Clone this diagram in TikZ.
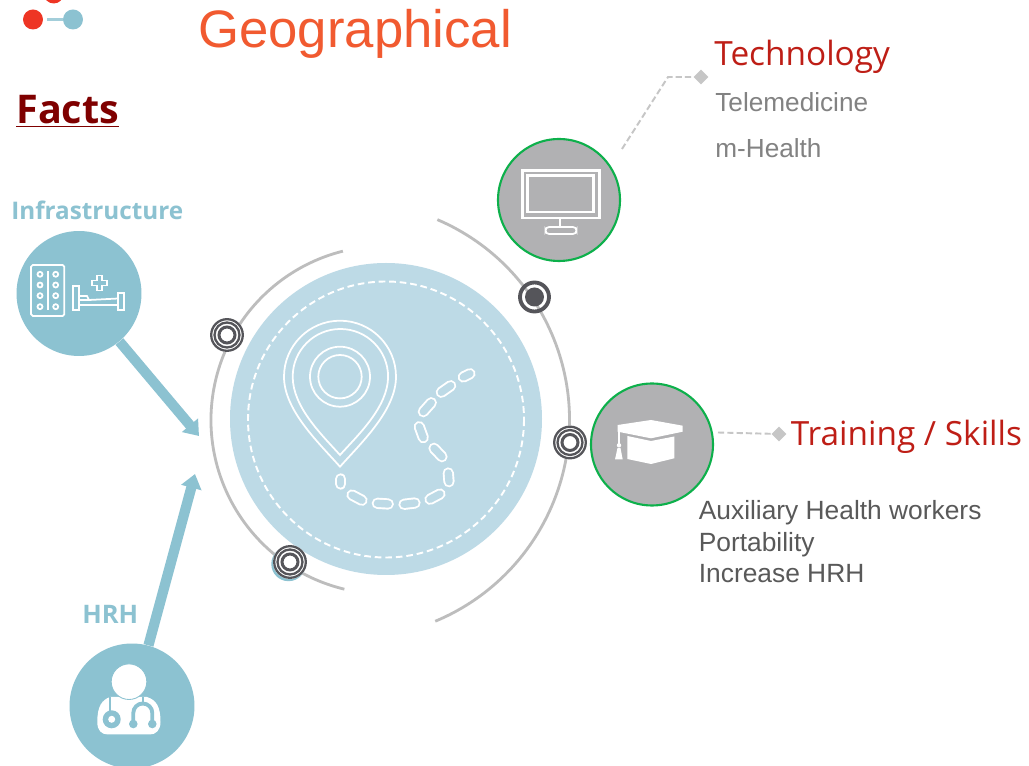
\documentclass[tikz,border=0pt]{standalone}
\usepackage{fontspec}
\setmainfont{Liberation Sans}
\newfontfamily\headfont{Open Sans}
\usepackage{xcolor}
\definecolor{titleorange}{HTML}{F15A30}
\definecolor{factsred}{HTML}{7F0000}
\definecolor{headred}{HTML}{BE1E16}
\definecolor{tealblue}{HTML}{8CC2D1}
\definecolor{paleblue}{HTML}{BDDAE6}
\definecolor{bubblegray}{HTML}{B1B1B3}
\definecolor{bubblegreen}{HTML}{0DB04B}
\definecolor{arcgray}{HTML}{BDBDBD}
\definecolor{ringdark}{HTML}{55555A}
\definecolor{leadgray}{HTML}{C6C6C6}
\definecolor{textgray}{HTML}{828282}
\definecolor{textdark}{HTML}{595959}
\definecolor{logored}{HTML}{EE3524}
\usetikzlibrary{arrows.meta,shapes.geometric}
\tikzset{
  tealbub/.style={circle,fill=tealblue,minimum size=2.5cm,inner sep=0pt},
  graybub/.style={circle,fill=bubblegray,draw=bubblegreen,line width=1.2pt,minimum size=2.44cm,inner sep=0pt},
  logodot/.style={circle,minimum size=0.4cm,inner sep=0pt},
  leaddot/.style={diamond,fill=leadgray,minimum size=0.3cm,inner sep=0pt},
  leadline/.style={leadgray,line width=1.1pt,dash pattern=on 3.5pt off 1.8pt},
  bigarrow/.style={tealblue,line width=5.8pt,-{Triangle[length=8pt,width=11.5pt]}},
  arcline/.style={arcgray,line width=1.6pt},
  iconline/.style={white,line width=1pt},
  ringmark/.pic={
    \fill[white] (0,0) circle[radius=17];
    \draw[ringdark,line width=1.3pt] (0,0) circle[radius=15.8];
    \draw[ringdark,line width=1.3pt] (0,0) circle[radius=12.5];
    \draw[ringdark,line width=1.7pt] (0,0) circle[radius=8];
  }
}
\newcommand{\footdash}[2]{
  \draw[white,line width=6.4pt,line cap=round] #1 -- #2;
  \draw[paleblue,line width=4.2pt,line cap=round] #1 -- #2;
}
\begin{document}
\begin{tikzpicture}[x=0.02cm,y=-0.02cm]
  \clip (0,0) rectangle (1029,766);
  \fill[white] (0,0) rectangle (1029,766);

  \node[logodot,fill=logored] (logotop) at (53.7,-6.5) {};
  \node[logodot,fill=logored] (logored) at (33,19.5) {};
  \node[logodot,fill=tealblue] (logoblue) at (73,19.5) {};
  \draw[tealblue!80,line width=1.2pt,shorten <=2.3pt] (logored) -- (logoblue);

  \node[font=\fontsize{30}{36}\selectfont,text=titleorange,anchor=base west,inner sep=0pt] (title) at (198,48) {Geographical};
  \node[font=\headfont\fontsize{22.5}{27}\selectfont\bfseries,text=factsred,anchor=base west,inner sep=0pt] (facts) at (16,123.5) {\underline{Facts}};
  \node[font=\headfont\fontsize{13.8}{18}\selectfont\bfseries,text=tealblue,anchor=base west,inner sep=0pt] (infralabel) at (11,219.5) {Infrastructure};
  \node[font=\headfont\fontsize{14.5}{18}\selectfont\bfseries,text=tealblue,anchor=base west,inner sep=0pt] (hrhlabel) at (82,623.5) {HRH};

  \draw[arcline] ([shift={(103.5:174)}]385,420) arc[start angle=103.5,end angle=256,radius=174];
  \draw[arcline] ([shift={(-66.8:218)}]351.5,420) arc[start angle=-66.8,end angle=67.4,radius=218];

  \fill[paleblue] (386,419) circle[radius=156];
  \draw[white,line width=1.1pt,dash pattern=on 3.8pt off 2.2pt] (386,419.5) circle[radius=138];

  \draw[iconline] (340,466.7) .. controls (318,442) and (284,410) .. (284,376.7) arc[start angle=180,end angle=360,radius=56] .. controls (396,410) and (362,442) .. cycle;
  \draw[iconline] (340,455) .. controls (322,435) and (292.7,407) .. (292.7,376.7) arc[start angle=180,end angle=360,radius=47.7] .. controls (388,407) and (358,435) .. cycle;
  \draw[iconline] (340,376.7) circle[radius=30];
  \draw[iconline] (340,376.7) circle[radius=21.7];

  \footdash{(463.3,377)}{(470,373.7)}
  \footdash{(441.3,392.3)}{(450.7,385.7)}
  \footdash{(423.3,411.7)}{(431.3,402.7)}
  \footdash{(419.3,426.7)}{(423.3,437.7)}
  \footdash{(434,448.3)}{(442,456.7)}
  \footdash{(448.3,473)}{(449,481.7)}
  \footdash{(430,499.3)}{(440,494)}
  \footdash{(404,504.3)}{(415,503)}
  \footdash{(377.3,503.3)}{(388.3,504)}
  \footdash{(352,495)}{(362,500.3)}
  \footdash{(340.7,479)}{(340.7,484)}

  \fill[tealblue] (288.5,564) circle[radius=17.2];
  \foreach \ringpos in {(227,335),(570,442.5),(290,562)}
    \pic at \ringpos {ringmark};
  \draw[ringdark,line width=2.2pt] (534.5,297) circle[radius=14.5];
  \fill[ringdark] (534.5,297) circle[radius=9.5];

  \node[tealbub] (infra) at (79,293.5) {};
  \coordinate (infratip) at (199,436);
  \draw[bigarrow] (infra) -- (infratip);
  \draw[iconline,rounded corners=1pt] (31,265) rectangle (64.3,316);
  \draw[iconline] (48,271) -- (48,310);
  \foreach \py in {274.3,285,295.7,306.7}{
    \draw[iconline] (40,\py) circle[radius=2.5];
    \draw[iconline] (55.7,\py) circle[radius=2.5];
  }
  \draw[iconline] (72.7,285.7) rectangle (78.7,310);
  \draw[iconline] (118.3,293.3) rectangle (124.3,310);
  \draw[iconline] (78.7,296) -- (87,296) -- (89,300) -- (118.3,298.5);
  \draw[iconline] (78.7,305) -- (118.3,305);
  \draw[iconline] (78.7,300) -- (89,300);
  \draw[iconline] (97,275.5) -- (102,275.5) -- (102,280.5) -- (107,280.5) -- (107,285.5) -- (102,285.5) -- (102,290.5) -- (97,290.5) -- (97,285.5) -- (92,285.5) -- (92,280.5) -- (97,280.5) -- cycle;

  \coordinate (hrhtip) at (195,474);
  \node[tealbub] (hrh) at (132,706) {};
  \draw[bigarrow] (hrh) -- (hrhtip);
  \fill[white] (97.3,722) .. controls (97.3,706) and (102,700) .. (110,697) -- (147,697) .. controls (156,700) and (160.5,706) .. (160.5,722) .. controls (160.5,730) and (156,734.5) .. (150,734.5) -- (108,734.5) .. controls (101,734.5) and (97.3,730) .. (97.3,722) -- cycle;
  \fill[white,draw=tealblue,line width=0.5pt] (129,681.7) circle[radius=17.8];
  \draw[tealblue,line width=1.1pt] (110,697) -- (110,714);
  \fill[tealblue] (111.7,719.3) circle[radius=9];
  \fill[white] (111.7,719.3) circle[radius=3.5];
  \draw[tealblue,line width=2.2pt] (133.3,724) -- (133.3,713) arc[start angle=180,end angle=360,radius=9.5] -- (152.3,724);
  \draw[tealblue,line width=1.1pt] (143.3,704) -- (143.3,697);
  \fill[tealblue] (133.3,724) circle[radius=4.3];
  \fill[tealblue] (152.3,724) circle[radius=4.3];

  \node[graybub] (tech) at (559,200) {};
  \draw[iconline,line width=1.4pt] (522.3,170.3) rectangle (599.3,218);
  \draw[iconline,line width=1.4pt] (527.7,175.7) rectangle (593.3,212);
  \draw[iconline] (560,218) -- (560,227);
  \draw[iconline,rounded corners=2pt] (545.5,227) rectangle (576.5,234);

  \node[graybub] (skills) at (652,444.5) {};
  \fill[white] (617.7,425) -- (651,420) -- (682.7,425.7) -- (682.7,431.7) -- (651,438.3) -- (617.7,431.7) -- cycle;
  \fill[white] (627.3,436) -- (651,441) -- (674.3,436.5) -- (674.3,458.3) -- (651,464) -- (627.3,459) -- cycle;
  \draw[iconline] (619,431) -- (619,445);
  \fill[white] (619,445.3) circle[radius=2.2];
  \fill[white] (617.5,448) -- (620.5,448) -- (622.7,459.5) -- (615,459.5) -- cycle;

  \node[leaddot] (techdot) at (701,77) {};
  \coordinate (techstart) at (622,149);
  \coordinate (techbend) at (668,77);
  \draw[leadline] (techstart) -- (techbend) -- (techdot);
  \node[leaddot] (skillsdot) at (779,434) {};
  \coordinate (skillsstart) at (718,432.5);
  \draw[leadline] (skillsstart) -- (skillsdot);

  \node[font=\headfont\fontsize{19}{23}\selectfont,text=headred,anchor=base west,inner sep=0pt] (techlabel) at (714,66) {Technology};
  \node[font=\fontsize{14.9}{18}\selectfont,text=textgray,anchor=base west,inner sep=0pt] (telelabel) at (715,112) {Telemedicine};
  \node[font=\fontsize{14.9}{18}\selectfont,text=textgray,anchor=base west,inner sep=0pt] (mhealthlabel) at (715,158) {m-Health};
  \node[font=\headfont\fontsize{19}{23}\selectfont,text=headred,anchor=base west,inner sep=0pt] (skillslabel) at (790.5,446) {Training / Skills};
  \node[font=\fontsize{15}{18}\selectfont,text=textdark,anchor=base west,inner sep=0pt] (auxlabel) at (698.5,520) {Auxiliary Health workers};
  \node[font=\fontsize{15}{18}\selectfont,text=textdark,anchor=base west,inner sep=0pt] (portlabel) at (698.5,552) {Portability};
  \node[font=\fontsize{15}{18}\selectfont,text=textdark,anchor=base west,inner sep=0pt] (incrlabel) at (698.5,583) {Increase HRH};
\end{tikzpicture}
\end{document}
